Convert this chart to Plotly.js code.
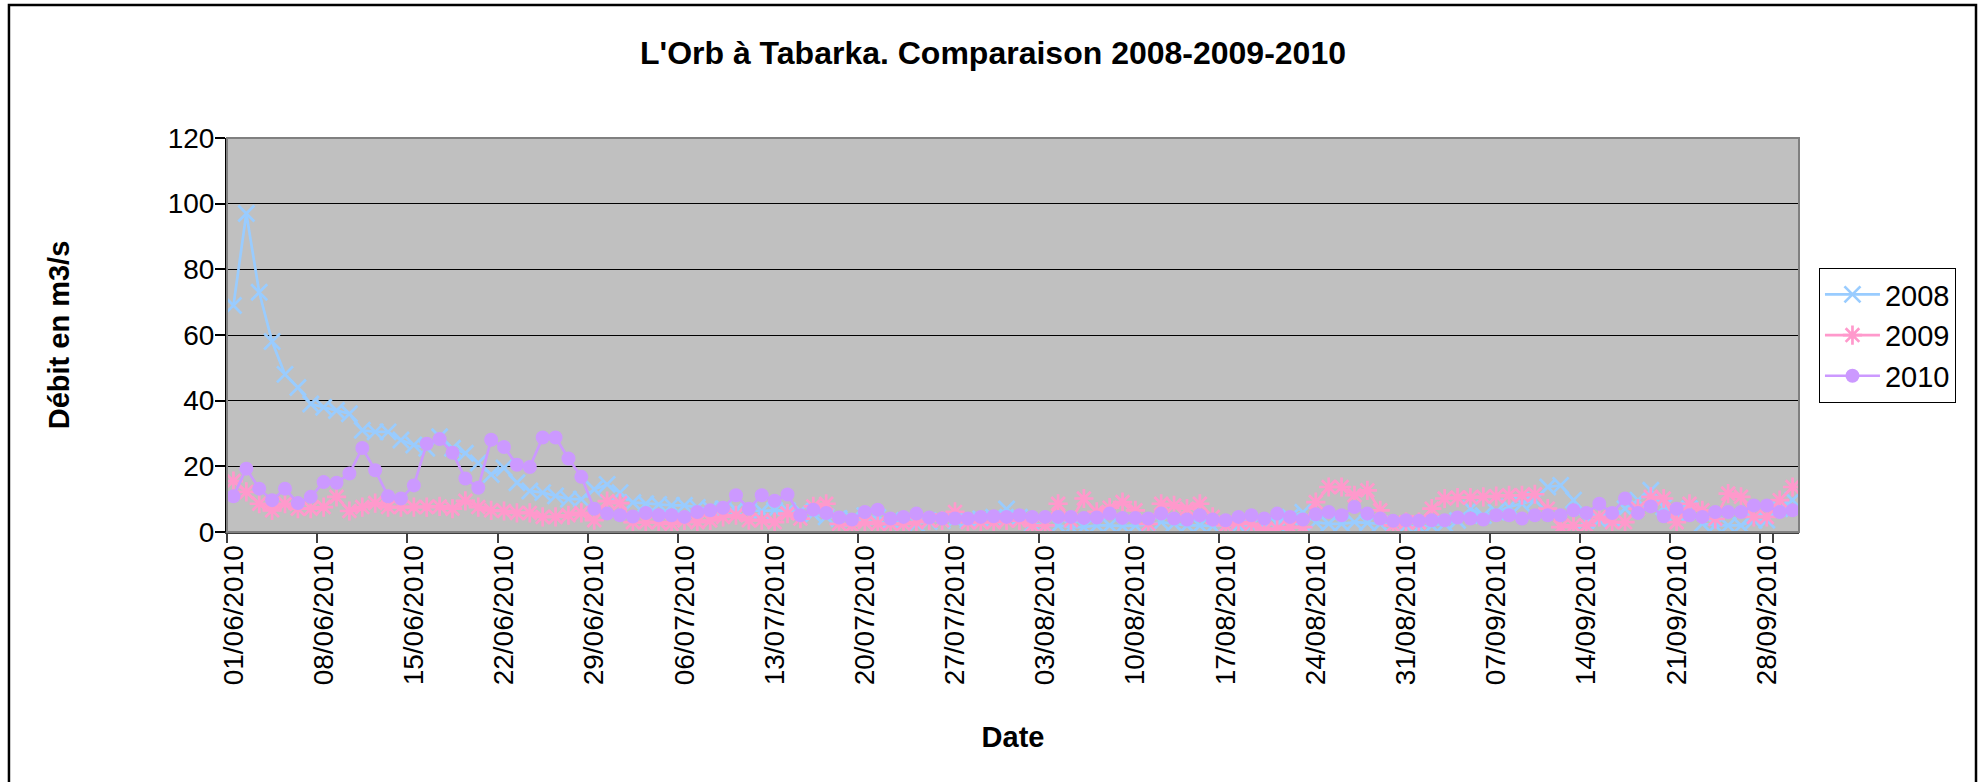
<!DOCTYPE html>
<html>
<head>
<meta charset="utf-8">
<script src="https://cdn.plot.ly/plotly-3.0.1.min.js"></script>
<style>
html,body{margin:0;padding:0;background:#ffffff;}
#chart{width:1986px;height:782px;}
</style>
</head>
<body>
<div id="chart"></div>
<script>
// Daily categories, 01/06/2010 .. 30/09/2010
const months = [6, 7, 8, 9];
const monthDays = [30, 31, 31, 30];
const categories = [];
function pad(n){ return (n < 10 ? '0' : '') + n; }
months.forEach(function(m, k){
  for (let d = 1; d <= monthDays[k]; d++) categories.push(pad(d) + '/' + pad(m) + '/2010');
});

const tickLabels = ['01/06/2010','08/06/2010','15/06/2010','22/06/2010','29/06/2010',
  '06/07/2010','13/07/2010','20/07/2010','27/07/2010','03/08/2010','10/08/2010',
  '17/08/2010','24/08/2010','31/08/2010','07/09/2010','14/09/2010','21/09/2010','28/09/2010'];

const yTicks = [0, 20, 40, 60, 80, 100, 120];

const flow2008 = [69, 97, 73, 58, 48, 44, 39, 38, 37, 36, 31, 30.5, 30.5, 28, 26.5, 25.5, 29, 25.5, 24, 21,
  17.5, 19.5, 15, 12.5, 12, 11, 10, 10, 13, 14.5, 12, 9,
  8.6, 8.4, 8.1, 8.1, 7.5, 7.0, 7.0, 6.8, 6.6, 6.4, 6.6, 6.5, 6.4, 5.5, 4.6, 4.1, 4.0, 5.0, 4.5, 3.5,
  2.6, 2.5, 3.2, 3.5, 3.8, 3.6, 4.0, 4.5, 7.0, 4.5,
  2.5, 2.0, 2.0, 1.5, 1.5, 2.0, 2.0, 1.8, 2.0, 2.2, 3.0, 2.5, 2.0, 2.0, 1.8, 2.0, 2.0, 2.0, 2.0, 2.5,
  4.5, 6.0, 3.0, 2.5, 2.5, 3.0, 2.8, 2.5, 2.2, 2.0, 1.5,
  2.0, 2.5, 3.5, 7.1, 5.0, 6.1, 7.6, 8.6, 9.7, 13.7, 14.2, 9.7, 3.6, 3.6, 4.1, 7.1, 9.7, 12.7, 7.6, 5.6,
  7.1, 2.5, 2.0, 2.0, 2.0, 3.6, 3.6, 7.1, 9.7];

const flow2009 = [15.5, 12.2, 8.6, 6.6, 8.6, 7.1, 7.1, 7.6, 10.7, 6.4, 7.6, 8.8, 7.6, 7.6, 7.6, 7.6, 7.8, 7.1, 9.5, 7.6,
  6.6, 6.4, 5.8, 5.8, 4.6, 4.6, 5.1, 5.8, 3.6, 9.4, 8.8, 3.0,
  3.0, 3.0, 2.5, 3.5, 3.0, 3.5, 4.6, 5.1, 3.6, 3.6, 3.0, 5.6, 4.1, 7.8, 8.6, 2.5, 2.0, 3.0, 2.5, 2.5,
  2.5, 3.0, 3.5, 3.5, 6.1, 3.0, 3.0, 3.0, 3.5, 3.5,
  2.0, 2.0, 8.6, 3.6, 10.2, 6.1, 7.4, 9.1, 6.6, 2.5, 8.6, 8.1, 7.1, 8.6, 4.6, 2.0, 3.0, 2.5, 0.5, 1.0,
  1.5, 1.5, 9.1, 13.7, 13.7, 11.2, 12.7, 6.6, 2.0, 3.0, 3.0,
  7.1, 10.2, 10.5, 10.5, 10.7, 10.9, 11.2, 11.2, 11.5, 7.1, 1.5, 2.0, 2.0, 4.6, 3.0, 3.0, 7.1, 10.7, 10.2, 3.0,
  8.6, 6.6, 4.0, 11.7, 10.7, 4.6, 4.6, 9.7, 13.7];

const flow2010 = [10.9, 19.3, 13.2, 9.7, 13.2, 8.8, 10.7, 15.2, 15.0, 17.8, 25.6, 18.8, 10.9, 10.2, 14.2, 26.9, 28.3, 24.1, 16.3, 13.5,
  28.1, 25.9, 20.5, 19.8, 28.8, 28.8, 22.4, 16.8, 7.1, 5.6, 5.1, 4.7,
  5.8, 5.1, 5.1, 4.6, 6.1, 6.6, 7.4, 11.2, 7.1, 11.2, 9.5, 11.4, 5.1, 6.8, 5.8, 4.4, 3.8, 6.1, 6.8, 4.1,
  4.6, 5.6, 4.4, 4.1, 4.1, 4.1, 4.6, 4.8, 4.6, 5.1,
  4.6, 4.6, 4.6, 4.6, 4.3, 4.4, 5.6, 4.3, 4.3, 4.1, 5.6, 4.1, 3.8, 5.1, 3.8, 3.6, 4.6, 5.1, 4.1, 5.6,
  4.6, 3.8, 5.4, 6.1, 5.1, 7.6, 5.6, 4.1, 3.4, 3.6, 3.4,
  3.6, 3.6, 4.4, 4.1, 3.8, 5.1, 5.1, 4.1, 5.1, 5.1, 5.1, 6.6, 5.8, 8.6, 5.8, 10.2, 5.8, 7.8, 4.8, 7.1,
  5.1, 4.6, 6.1, 6.1, 6.1, 8.1, 8.1, 6.1, 6.6];

const seriesNames = ['2008', '2009', '2010'];
const seriesColors = ['#99CCFF', '#FF99CC', '#CC99FF'];

const FONT = '"Liberation Sans", Arial, Helvetica, sans-serif';

const traces = [
  {
    x: categories, y: flow2008, name: seriesNames[0], type: 'scatter', mode: 'lines+markers',
    line: {color: seriesColors[0], width: 2.7},
    marker: {symbol: 'x-thin-open', size: 16, color: seriesColors[0], line: {color: seriesColors[0], width: 2.7}}
  },
  {
    x: categories, y: flow2009, name: seriesNames[1], type: 'scatter', mode: 'lines+markers',
    line: {color: seriesColors[1], width: 2.7},
    marker: {symbol: 'asterisk-open', size: 16, color: seriesColors[1], line: {color: seriesColors[1], width: 2.7}}
  },
  {
    x: categories, y: flow2010, name: seriesNames[2], type: 'scatter', mode: 'lines+markers',
    line: {color: seriesColors[2], width: 2.7},
    marker: {symbol: 'circle', size: 14, color: seriesColors[2]}
  }
];

const layout = {
  width: 1986, height: 782,
  paper_bgcolor: '#ffffff',
  plot_bgcolor: '#C0C0C0',
  font: {family: FONT, color: '#000000', size: 28},
  margin: {l: 227, r: 187, t: 138, b: 250, pad: 0},
  showlegend: true,
  title: {
    text: "L'Orb à Tabarka. Comparaison 2008-2009-2010",
    font: {family: FONT, size: 32, weight: 'bold', color: '#000000'},
    xref: 'container', x: 0.5, xanchor: 'center',
    yref: 'container', y: 0.932, yanchor: 'middle'
  },
  xaxis: {
    type: 'category',
    categoryorder: 'array', categoryarray: categories,
    range: [-0.5, categories.length - 0.5],
    tickmode: 'array', tickvals: tickLabels, ticktext: tickLabels,
    tickson: 'boundaries',
    ticks: 'outside', ticklen: 9, tickwidth: 1.5, tickcolor: '#404040',
    tickangle: -90,
    tickfont: {family: FONT, size: 28, color: '#000000'},
    showline: true, linecolor: '#404040', linewidth: 2,
    showgrid: false, zeroline: false,
    title: {text: 'Date', font: {family: FONT, size: 29, weight: 'bold'}, standoff: 42}
  },
  yaxis: {
    range: [0, 120],
    tickmode: 'array', tickvals: yTicks,
    ticks: 'outside', ticklen: 10, tickwidth: 1.5, tickcolor: '#000000',
    ticklabelstandoff: -5,
    tickfont: {family: FONT, size: 28, color: '#000000'},
    showline: true, linecolor: '#000000', linewidth: 2,
    showgrid: true, gridcolor: '#000000', gridwidth: 1,
    zeroline: false,
    title: {text: 'Débit en m3/s', font: {family: FONT, size: 29, weight: 'bold'}, standoff: 90}
  },
  legend: {
    x: 1.0127, xanchor: 'left', y: 0.67, yanchor: 'top',
    bgcolor: '#ffffff', bordercolor: '#000000', borderwidth: 1,
    font: {family: FONT, size: 29, color: '#000000'},
    itemwidth: 55
  },
  shapes: [
    {type: 'rect', xref: 'paper', yref: 'paper', x0: 0, x1: 1, y0: 0, y1: 1,
     line: {color: '#808080', width: 2}, layer: 'above'},
    {type: 'rect', xref: 'paper', yref: 'paper', x0: -0.1387, x1: 1.1126, y0: -0.75, y1: 1.3376,
     line: {color: '#000000', width: 2.5}, layer: 'above'}
  ]
};

Plotly.newPlot('chart', traces, layout, {displayModeBar: false, responsive: false});
</script>
</body>
</html>
